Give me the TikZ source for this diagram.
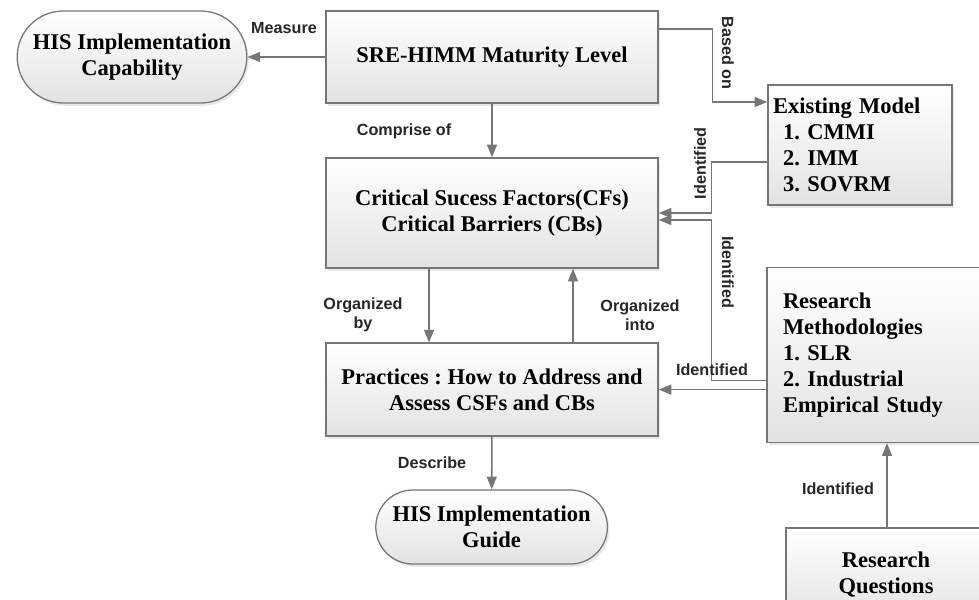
\documentclass[tikz,border=0pt]{standalone}
\usepackage{fontspec}
\setmainfont{Liberation Serif}
\newfontfamily\labelfont{Liberation Sans}
\usetikzlibrary{arrows.meta,shapes.misc,shadows}
\definecolor{linegray}{RGB}{118,118,118}
\frenchspacing
\begin{document}
\begin{tikzpicture}[
    box/.style={rectangle, draw=linegray, line width=0.9pt, top color=white, bottom color=gray!22,
      drop shadow={opacity=0.18, shadow xshift=0.05cm, shadow yshift=-0.07cm},
      minimum width=8.3cm, font=\fontsize{16}{18.5}\selectfont\bfseries, align=center},
    pill/.style={box, rounded rectangle},
    conn/.style={-{Triangle[length=9pt,width=7pt]}, line width=1.1pt, draw=linegray},
    lbl/.style={font=\labelfont\fontsize{11.5}{13.5}\selectfont\bfseries, align=center, text=black!85},
  ]
    \useasboundingbox (0,0) rectangle (24.475,-14.975);

    % Main column
    \node[pill, minimum width=5.975cm, minimum height=2.3cm] (cap) at (3.3,-1.425) {HIS Implementation\\Capability};
    \node[box, minimum height=2.3cm] (sre) at (12.3,-1.425) {SRE-HIMM Maturity Level};
    \node[box, minimum height=2.75cm] (csf) at (12.3,-5.325) {Critical Sucess Factors(CFs)\\Critical Barriers (CBs)};
    \node[box, minimum height=2.325cm] (prac) at (12.3,-9.74) {Practices : How to Address and\\Assess CSFs and CBs};
    \node[pill, minimum width=6.025cm, minimum height=1.85cm] (guide) at (12.29,-13.175) {HIS Implementation\\Guide};

    % Sources
    \node[box, minimum width=0pt, minimum height=3cm, text width=4.35cm, inner xsep=0.125cm, align=left] (exist) at (21.5,-3.625)
      {Existing Model\\\hspace*{0.25cm}1. CMMI\\\hspace*{0.25cm}2. IMM\\\hspace*{0.25cm}3. SOVRM};
    \node[box, minimum width=0pt, minimum height=4.375cm, text width=5.15cm, inner xsep=0.4cm, align=left] (resm) at (22.15,-8.875)
      {Research\\Methodologies\\1. SLR\\2. Industrial\\Empirical Study};
    \node[box, minimum width=5cm, minimum height=2.35cm] (rq) at (22.15,-14.375) {Research\\Questions};

    % Measure
    \draw[conn] (sre) -- (cap);
    \node[lbl] (measure) at (7.1,-0.7) {Measure};

    % Based on
    \draw[conn] ([yshift=0.7cm]sre.east) -- ++(1.35,0) |- ([yshift=1.075cm]exist.west);
    \node[lbl, rotate=-90] (basedon) at (18.2,-1.325) {Based on};

    % Comprise of
    \draw[conn] (sre) -- (csf);
    \node[lbl] (comprise) at (10.1,-3.275) {Comprise of};

    % Identified from the models and the methods
    \draw[conn] ([yshift=-0.425cm]exist.west) -- ++(-1.4,0) |- (csf.east);
    \node[lbl, rotate=90] (idmodel) at (17.5,-4.08) {Identified};
    \draw[conn] ([yshift=-0.64cm]resm.west) -- ++(-1.375,0) |- ([yshift=-0.175cm]csf.east);
    \node[lbl, rotate=-90] (idmethod) at (18.2,-6.8) {Identified};

    % Organized by / into
    \draw[conn] ([xshift=-1.575cm]csf.south) -- ([xshift=-1.575cm]prac.north);
    \node[lbl] (orgby) at (9.075,-7.875) {Organized\\by};
    \draw[conn] ([xshift=2.025cm]prac.north) -- ([xshift=2.025cm]csf.south);
    \node[lbl] (orginto) at (16,-7.875) {Organized\\into};

    % Identified practices
    \draw[conn] (resm.west |- prac.east) -- (prac.east);
    \node[lbl] (idprac) at (17.8,-9.25) {Identified};

    % Describe
    \draw[conn] (prac) -- (guide);
    \node[lbl] (describe) at (10.8,-11.575) {Describe};

    % Questions
    \draw[conn] ([xshift=0.025cm]rq.north) -- ([xshift=0.025cm]rq.north |- resm.south);
    \node[lbl] (idrq) at (20.95,-12.225) {Identified};
  \end{tikzpicture}
\end{document}
